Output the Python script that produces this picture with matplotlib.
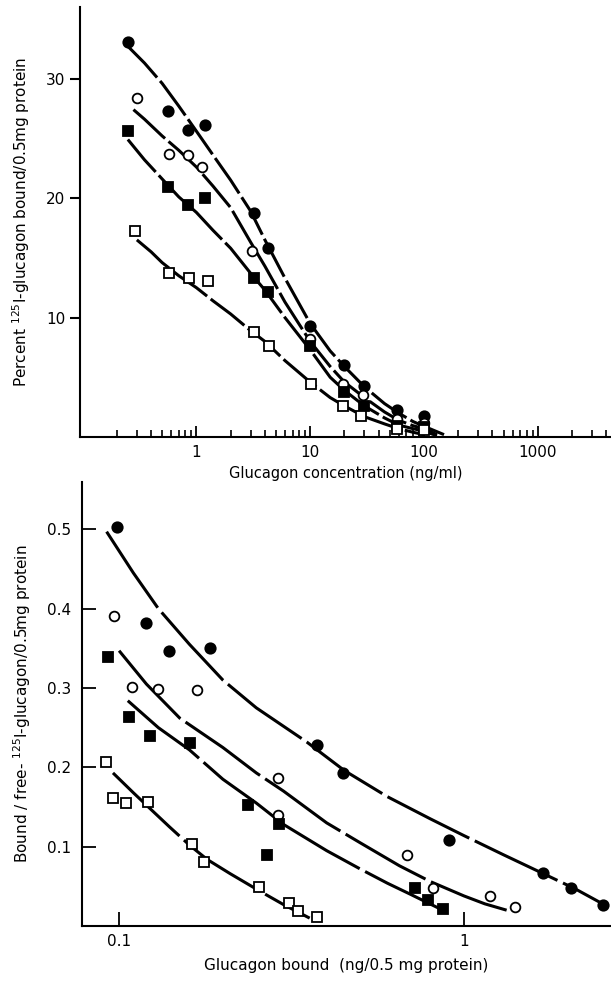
import matplotlib
matplotlib.use("Agg")
import matplotlib.pyplot as plt
import numpy as np

# ---- top panel: percent bound vs glucagon concentration ----
conc = [0.25, 0.56, 0.85, 1.2, 3.2, 4.3, 10, 20, 29.6, 58, 100]
conc_oc = [0.30, 0.57, 0.85, 1.11, 3.1, 10, 19.5, 29, 58, 100]
conc_os = [0.286, 0.58, 0.87, 1.27, 3.2, 4.37, 10.2, 19.5, 28, 58, 100]
pct_fc = [33.1, 27.3, 25.7, 26.1, 18.75, 15.8, 9.3, 6.0, 4.3, 2.25, 1.75]
pct_oc = [28.4, 23.7, 23.6, 22.6, 15.6, 8.2, 4.4, 3.5, 1.5, 1.2]
pct_fs = [25.6, 20.9, 19.4, 20.0, 13.3, 12.1, 7.6, 3.75, 2.6, 0.9, 0.8]
pct_os = [17.25, 13.7, 13.3, 13.1, 8.8, 7.6, 4.4, 2.6, 1.8, 0.7, 0.6]

# hand-drawn curves
cx = [0.25, 0.35, 0.5, 0.7, 1, 1.4, 2, 3, 4, 6, 10, 15, 20, 30, 45, 60, 80, 100, 150]
cy_fc = [32.7, 31.3, 29.6, 27.7, 25.6, 23.6, 21.5, 18.9, 16.5, 13.3, 9.5, 7.2, 5.9, 4.2, 2.8, 2.0, 1.3, 0.9, 0.2]
cx_oc = [0.28, 0.35, 0.5, 0.7, 1, 1.4, 2, 3, 4, 6, 10, 15, 20, 30, 45, 60, 80, 100, 130]
cy_oc = [27.4, 26.6, 25.2, 24.0, 22.6, 21.0, 19.2, 16.3, 14.3, 11.3, 8.0, 5.9, 4.6, 3.3, 2.1, 1.4, 0.95, 0.7, 0.2]
cx_fs = [0.25, 0.35, 0.5, 0.7, 1, 1.4, 2, 3, 4, 6, 10, 15, 20, 30, 45, 60, 80, 100, 130]
cy_fs = [24.9, 23.2, 21.6, 20.1, 18.8, 17.3, 15.8, 13.7, 12.3, 10.0, 7.3, 5.0, 3.9, 2.6, 1.6, 1.0, 0.7, 0.5, 0.1]
cx_os = [0.3, 0.4, 0.5, 0.7, 1, 1.4, 2, 3, 4, 6, 10, 15, 20, 30, 45, 60, 80, 100]
cy_os = [16.5, 15.5, 14.6, 13.5, 12.5, 11.4, 10.3, 8.9, 8.0, 6.4, 4.6, 3.3, 2.6, 1.7, 1.1, 0.7, 0.4, 0.2]

# ---- bottom panel: Scatchard-type plot ----
b_fc = [0.0989, 0.1195, 0.1396, 0.1835, 0.376, 0.445, 0.906, 1.69, 2.05, 2.53]
bf_fc = [0.503, 0.382, 0.347, 0.351, 0.228, 0.193, 0.109, 0.0665, 0.0485, 0.0267]
b_oc = [0.0969, 0.1088, 0.130, 0.168, 0.288, 0.288, 0.685, 0.814, 1.19, 1.41]
bf_oc = [0.391, 0.301, 0.299, 0.297, 0.187, 0.140, 0.0895, 0.0485, 0.038, 0.0235]
b_fs = [0.0927, 0.1069, 0.123, 0.161, 0.237, 0.268, 0.290, 0.72, 0.787, 0.87]
bf_fs = [0.339, 0.264, 0.239, 0.231, 0.152, 0.090, 0.128, 0.0485, 0.033, 0.0217]
b_os = [0.0917, 0.0963, 0.105, 0.121, 0.163, 0.176, 0.254, 0.31, 0.331, 0.374]
bf_os = [0.2066, 0.162, 0.155, 0.156, 0.103, 0.081, 0.049, 0.029, 0.019, 0.0113]

lx_fc = [0.092, 0.11, 0.13, 0.16, 0.2, 0.25, 0.35, 0.45, 0.6, 0.8, 1.0, 1.3, 1.7, 2.1, 2.55]
ly_fc = [0.497, 0.445, 0.40, 0.355, 0.31, 0.275, 0.232, 0.196, 0.163, 0.135, 0.114, 0.09, 0.066, 0.047, 0.027]
lx_oc = [0.1, 0.12, 0.15, 0.2, 0.25, 0.3, 0.4, 0.5, 0.65, 0.8, 1.0, 1.15, 1.33]
ly_oc = [0.347, 0.305, 0.262, 0.225, 0.193, 0.17, 0.13, 0.105, 0.076, 0.056, 0.038, 0.028, 0.020]
lx_fs = [0.106, 0.13, 0.16, 0.2, 0.25, 0.3, 0.4, 0.5, 0.6, 0.7, 0.85]
ly_fs = [0.284, 0.25, 0.222, 0.185, 0.155, 0.128, 0.095, 0.072, 0.054, 0.040, 0.022]
lx_os = [0.096, 0.11, 0.123, 0.14, 0.16, 0.18, 0.21, 0.256, 0.3, 0.357]
ly_os = [0.193, 0.168, 0.148, 0.125, 0.102, 0.084, 0.066, 0.044, 0.027, 0.01]

plt.rcParams['font.family'] = 'DejaVu Sans'
fig = plt.figure(figsize=(6.11, 9.81), dpi=100)
ax1 = fig.add_axes([0.131, 0.5545, 0.869, 0.4385])
ax2 = fig.add_axes([0.134, 0.056, 0.866, 0.453])

mk = dict(color='black', linestyle='none', markeredgecolor='black', markeredgewidth=1.3)

def style(ax):
    for s in ['top', 'right']:
        ax.spines[s].set_visible(False)
    for s in ['left', 'bottom']:
        ax.spines[s].set_linewidth(1.5)

# top
for xs, ys in [(cx, cy_fc), (cx_oc, cy_oc), (cx_fs, cy_fs), (cx_os, cy_os)]:
    ax1.plot(xs, ys, color='black', lw=2.2, dashes=(14, 1.5), zorder=1)
ax1.plot(conc, pct_fc, marker='o', ms=7.5, markerfacecolor='black', **mk)
ax1.plot(conc_oc, pct_oc, marker='o', ms=7, markerfacecolor='white', **mk)
ax1.plot(conc, pct_fs, marker='s', ms=7.5, markerfacecolor='black', **mk)
ax1.plot(conc_os, pct_os, marker='s', ms=7.5, markerfacecolor='white', **mk)
ax1.set_xscale('log')
ax1.set_xlim(0.095, 4400)
ax1.set_ylim(0, 36)
ax1.set_yticks([10, 20, 30])
ax1.set_xticks([1, 10, 100, 1000])
ax1.set_xticklabels(['1', '10', '100', '1000'])
ax1.tick_params(axis='y', direction='out', length=7, width=1.5, labelsize=11)
ax1.tick_params(axis='x', which='major', direction='in', length=8, width=1.3, labelsize=11, pad=6)
ax1.tick_params(axis='x', which='minor', direction='in', length=5, width=1.2)
ax1.set_xlabel('Glucagon concentration (ng/ml)', fontsize=10.5, labelpad=4)
ax1.set_ylabel(r'Percent $^{125}$I-glucagon bound/0.5mg protein', fontsize=11, labelpad=10)
style(ax1)

# bottom
for lx, ly in [(lx_fc, ly_fc), (lx_oc, ly_oc), (lx_fs, ly_fs), (lx_os, ly_os)]:
    ax2.plot(lx, ly, color='black', lw=2.2, dashes=(30, 2), zorder=1)
ax2.plot(b_fc, bf_fc, marker='o', ms=7.5, markerfacecolor='black', **mk)
ax2.plot(b_oc, bf_oc, marker='o', ms=7, markerfacecolor='white', **mk)
ax2.plot(b_fs, bf_fs, marker='s', ms=7.5, markerfacecolor='black', **mk)
ax2.plot(b_os, bf_os, marker='s', ms=7.5, markerfacecolor='white', **mk)
ax2.set_xscale('log')
ax2.set_xlim(0.078, 2.67)
ax2.set_ylim(0, 0.56)
ax2.set_yticks([0.1, 0.2, 0.3, 0.4, 0.5])
ax2.set_yticklabels(['0.1', '0.2', '0.3', '0.4', '0.5'])
ax2.set_xticks([0.1, 1])
ax2.set_xticklabels(['0.1', '1'])
ax2.xaxis.set_minor_locator(matplotlib.ticker.NullLocator())
ax2.tick_params(axis='y', direction='in', length=10, width=1.3, labelsize=11, pad=8)
ax2.tick_params(axis='x', direction='in', length=10, width=1.3, labelsize=11, pad=6)
ax2.set_xlabel('Glucagon bound  (ng/0.5 mg protein)', fontsize=11, labelpad=6)
ax2.set_ylabel(r'Bound / free- $^{125}$I-glucagon/0.5mg protein', fontsize=11, labelpad=10)
style(ax2)

fig.savefig('out.png', dpi=100)
